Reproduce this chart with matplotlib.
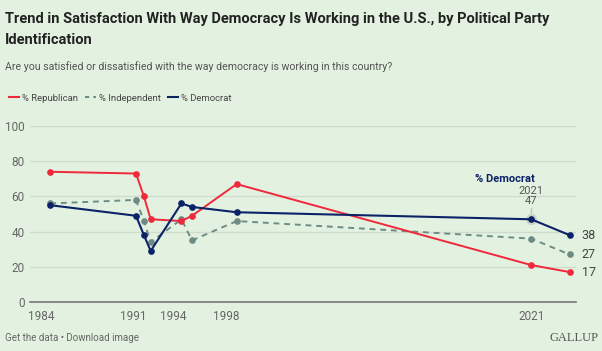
import matplotlib
matplotlib.use("Agg")
import matplotlib.pyplot as plt
from matplotlib.lines import Line2D

# survey dates as decimal years
years = [1984.7, 1991.17, 1991.77, 1992.28, 1994.6, 1995.4, 1998.77, 2021.0, 2023.9]
republican = [74, 73, 60, 47, 46, 49, 67, 21, 17]
independent = [56, 58, 46, 34, 47, 35, 46, 36, 27]
democrat = [55, 49, 38, 29, 56, 54, 51, 47, 38]

tick_years = [1984, 1991, 1994, 1998, 2021]
y_ticks = [0, 20, 40, 60, 80, 100]

BG = "#e3f2e0"
RED = "#f0283c"
NAVY = "#0c2266"
GREY = "#6e8c84"
TXT = "#666666"

plt.rcParams["font.family"] = ["Roboto", "DejaVu Sans"]

fig = plt.figure(figsize=(6.02, 3.51), dpi=100, facecolor=BG)
ax = fig.add_axes([0.0498, 0.1396, 0.907, 0.5014], facecolor=BG)

ax.plot(years, independent, color=GREY, lw=1.4, ls=(0, (3, 2.5)), marker="o", ms=3.8,
        clip_on=False, zorder=3)
ax.plot(years, republican, color=RED, lw=1.4, marker="o", ms=3.8, clip_on=False, zorder=4)
ax.plot(years, democrat, color=NAVY, lw=1.5, marker="o", ms=3.8, clip_on=False, zorder=5)

# highlight on the 2021 Democrat point
ax.plot(years[7], democrat[7], "o", ms=7, color="#c8d4cc", zorder=4.5, clip_on=False)
ax.plot([years[7], years[7]], [democrat[7] + 2, democrat[7] + 6.5], color="#c0c8c4",
        lw=1, zorder=4, clip_on=False)
ax.text(years[7], democrat[7] + 7.5, "47", ha="center", va="bottom", fontsize=8, color="#555555")
ax.text(years[7], democrat[7] + 13.5, "2021", ha="center", va="bottom", fontsize=8, color="#555555")
ax.text(years[7] + 0.3, democrat[7] + 20, "% Democrat", ha="right", va="bottom",
        fontsize=8, fontweight="bold", color=NAVY)

for vals in (democrat, independent, republican):
    ax.text(years[-1] + 0.9, vals[-1], str(vals[-1]), ha="left", va="center",
            fontsize=9, color="#444444")

ax.set_xlim(1983.17, 2024.38)
ax.set_ylim(0, 100)
ax.set_xticks(tick_years)
ax.set_xticklabels([str(y) for y in tick_years])
ax.set_yticks(y_ticks)
ax.grid(axis="y", color="#cfdccc", lw=1)
ax.set_axisbelow(True)
for s in ["top", "right", "left"]:
    ax.spines[s].set_visible(False)
ax.spines["bottom"].set_color("#777777")
ax.spines["bottom"].set_linewidth(1.2)
ax.tick_params(axis="both", length=0, labelsize=8.5, labelcolor=TXT)
ax.tick_params(axis="x", pad=6)
ax.tick_params(axis="y", pad=4)

fig.text(0.008, 0.945, "Trend in Satisfaction With Way Democracy Is Working in the U.S., by Political Party",
         fontsize=10.5, fontweight="bold", color="#222222", va="center")
fig.text(0.008, 0.887, "Identification", fontsize=10.5, fontweight="bold", color="#222222", va="center")
fig.text(0.008, 0.81, "Are you satisfied or dissatisfied with the way democracy is working in this country?",
         fontsize=7.6, color="#555555", va="center")

handles = [Line2D([], [], color=RED, lw=1.5),
           Line2D([], [], color=GREY, lw=1.5, ls=(0, (2, 2))),
           Line2D([], [], color=NAVY, lw=1.5)]
fig.legend(handles, ["% Republican", "% Independent", "% Democrat"], loc="center left",
           bbox_to_anchor=(0.0, 0.72), ncol=3, frameon=False, fontsize=6.8,
           handlelength=1.1, handletextpad=0.3, columnspacing=0.8, labelcolor="#444444")

fig.text(0.008, 0.037, "Get the data \u2022 Download image", fontsize=7, color="#666666", va="center")
fig.text(0.995, 0.037, "GALLUP", fontsize=9, color="#555555", va="center", ha="right",
         family=["Liberation Serif", "DejaVu Serif"])

fig.savefig("out.png", dpi=100, facecolor=BG)
